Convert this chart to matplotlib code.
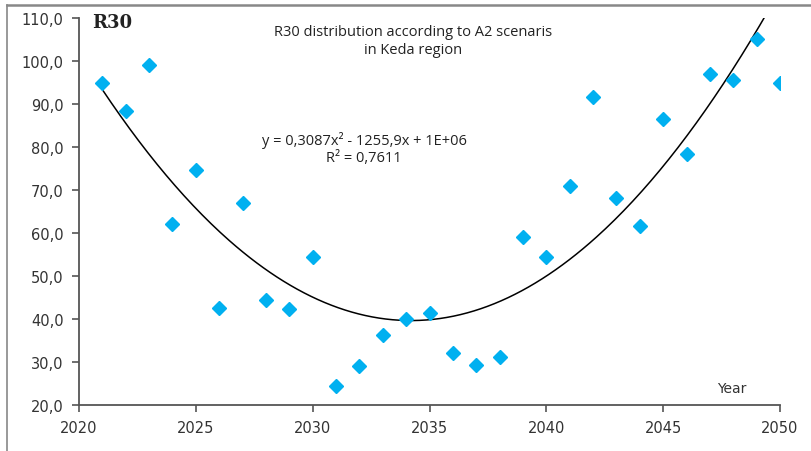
import matplotlib.pyplot as plt
from matplotlib.lines import Line2D
from matplotlib.ticker import FuncFormatter
import numpy as np

plt.rcParams['font.family'] = ['DejaVu Sans']

years = list(range(2021, 2051))
r30 = [94.8, 88.4, 99.0, 62.0, 74.7, 42.6, 67.0, 44.4, 42.3, 54.4,
       24.4, 29.0, 36.3, 40.0, 41.5, 32.2, 29.3, 31.2, 59.1, 54.4,
       71.0, 91.7, 68.2, 61.6, 86.5, 78.3, 96.9, 95.6, 105.2, 94.9]

x_ticks = [2020, 2025, 2030, 2035, 2040, 2045, 2050]
y_ticks = [20, 30, 40, 50, 60, 70, 80, 90, 100, 110]

W, H = 812, 452
fig = plt.figure(figsize=(W/100, H/100), dpi=100)
ax = fig.add_axes([79/W, 1-406/H, (780-79)/W, (406-19)/H])

# polynomial trendline (order 2) like excel
coef = np.polyfit(years, r30, 2)
xs = np.linspace(years[0], years[-1], 300)
ax.plot(xs, np.polyval(coef, xs), color='black', lw=1.1, zorder=2)

ax.plot(years, r30, linestyle='none', marker='D', markersize=7.5,
        color='#00B0F0', markeredgecolor='#00B0F0', zorder=3)

ax.set_xlim(2020, 2050)
ax.set_ylim(20, 110)
ax.set_xticks(x_ticks)
ax.set_yticks(y_ticks)
ax.yaxis.set_major_formatter(FuncFormatter(lambda v, p: ('%.1f' % v).replace('.', ',')))

for s in ['top', 'right']:
	ax.spines[s].set_visible(False)
for s in ['left', 'bottom']:
	ax.spines[s].set_color('#555555')
	ax.spines[s].set_linewidth(1.3)
ax.tick_params(colors='#555555', labelcolor='#333333', labelsize=10.5,
               length=5, width=1.2, direction='out', pad=6)

ax.text(2047.3, 22.3, 'Year', fontsize=10, family='DejaVu Sans', color='#333333',
        ha='left', va='bottom')
ax.text(2020.55, 109.1, 'R30', fontsize=13, fontweight='bold', family='DejaVu Serif',
        color='#222222', ha='left', va='center')
ax.text(2034.3, 104.8, 'R30 distribution according to A2 scenaris\nin Keda region',
        fontsize=10.5, family='Open Sans', color='#222222', ha='center', va='center',
        linespacing=1.25)
ax.text(2032.2, 79.8, 'y = 0,3087x² - 1255,9x + 1E+06\nR² = 0,7611',
        fontsize=10.5, family='Open Sans', color='#222222', ha='center', va='center',
        linespacing=1.2)

# chart area border (top and left edges visible)
fig.add_artist(Line2D([7/W, 1], [1-6/H, 1-6/H], transform=fig.transFigure, color='#888888', lw=1.8))
fig.add_artist(Line2D([7/W, 7/W], [0, 1-6/H], transform=fig.transFigure, color='#888888', lw=1.2))

fig.savefig('out.png', dpi=100)
